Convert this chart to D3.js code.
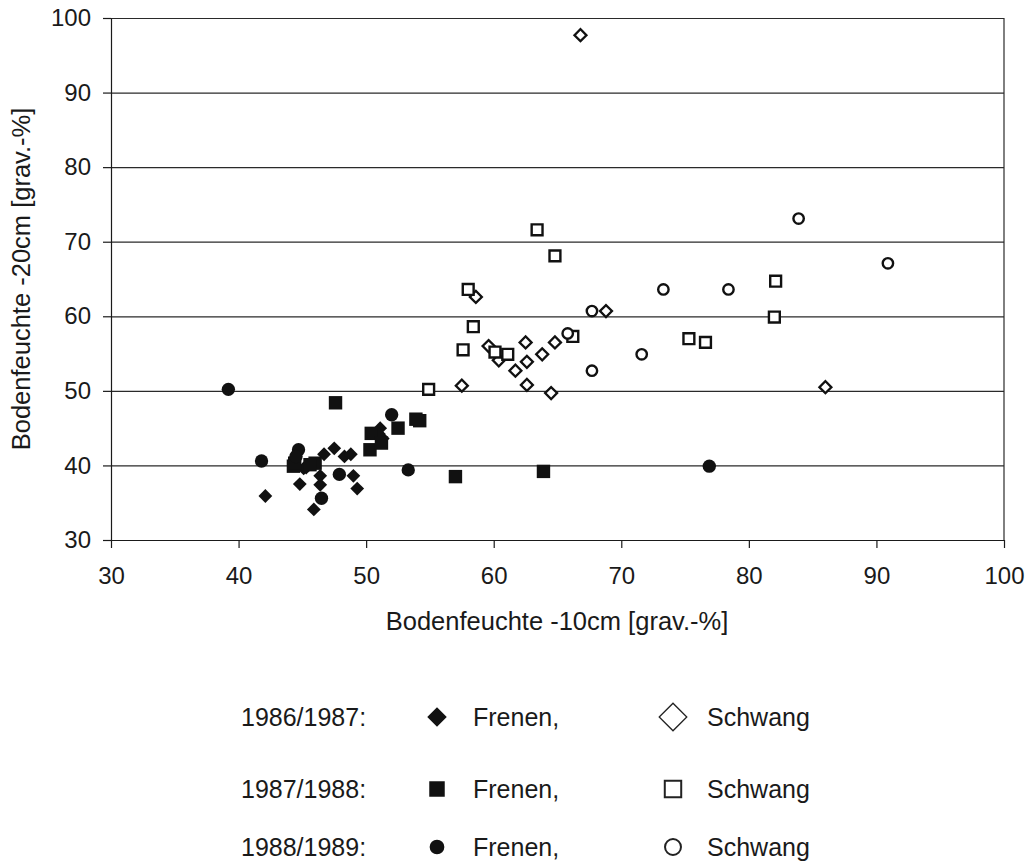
<!DOCTYPE html>
<html>
<head>
<meta charset="utf-8">
<script src="https://cdn.jsdelivr.net/npm/d3@7"></script>
<style>
  body { margin: 0; background: #fff; }
  svg { display: block; font-family: "Liberation Sans", Arial, sans-serif; }
</style>
</head>
<body>
<div id="chart"></div>
<script>
// 1986/1987
const frenen8687 = [
  [42.1, 35.9], [44.8, 37.5], [45.1, 39.6], [45.3, 39.7], [45.9, 34.1],
  [46.4, 38.6], [46.4, 37.4], [46.7, 41.5], [47.5, 42.3], [48.3, 41.2],
  [48.8, 41.5], [49.0, 38.6], [49.3, 36.9], [51.1, 45.0], [51.3, 43.6],
  [51.0, 44.2]
];
const schwang8687 = [
  [66.8, 97.7], [58.6, 62.6], [57.5, 50.7], [59.6, 56.0], [60.4, 54.1],
  [61.7, 52.7], [62.5, 56.5], [62.6, 53.9], [62.6, 50.8], [63.8, 54.9],
  [64.5, 49.7], [64.8, 56.5], [68.8, 60.7], [86.0, 50.5]
];
// 1987/1988
const frenen8788 = [
  [47.6, 48.4], [44.3, 39.9], [44.4, 40.3], [46.0, 40.3], [45.6, 40.1],
  [50.4, 44.3], [50.3, 42.1], [51.2, 43.0], [52.5, 45.0], [53.9, 46.2],
  [54.2, 46.0], [57.0, 38.5], [63.9, 39.2]
];
const schwang8788 = [
  [58.0, 63.6], [58.4, 58.6], [57.6, 55.5], [60.1, 55.2], [61.1, 54.9],
  [54.9, 50.2], [66.2, 57.3], [63.4, 71.6], [64.8, 68.1], [82.1, 64.7],
  [82.0, 59.9], [75.3, 57.0], [76.6, 56.5]
];
// 1988/1989
const frenen8889 = [
  [39.2, 50.2], [41.8, 40.6], [44.7, 42.1], [44.5, 41.2], [46.5, 35.6],
  [47.9, 38.8], [52.0, 46.8], [53.3, 39.4], [76.9, 39.9]
];
const schwang8889 = [
  [65.8, 57.7], [67.7, 60.7], [67.7, 52.7], [71.6, 54.9], [73.3, 63.6],
  [78.4, 63.6], [83.9, 73.1], [90.9, 67.1]
];

const xTicks = [30, 40, 50, 60, 70, 80, 90, 100];
const yTicks = [30, 40, 50, 60, 70, 80, 90, 100];
const years = ["1986/1987:", "1987/1988:", "1988/1989:"];

const width = 1031, height = 865;
const margin = { t: 18, r: 27, b: 325, l: 111 };
const fontSize = 24;

const svg = d3.select("#chart").append("svg")
  .attr("width", width)
  .attr("height", height);

const scaleX = d3.scaleLinear()
  .domain([30, 100])
  .range([margin.l, width - margin.r]);

const scaleY = d3.scaleLinear()
  .domain([30, 100])
  .range([height - margin.b, margin.t]);

// grid
const gridY = d3.axisLeft(scaleY)
  .tickValues(yTicks)
  .tickSizeInner(-(scaleX.range()[1] - scaleX.range()[0]))
  .tickSizeOuter(0)
  .tickFormat("");

svg.append("g")
  .attr("transform", `translate(${margin.l},0)`)
  .style("color", "#2a2a2a")
  .attr("stroke-width", 1.2)
  .call(gridY)
  .call((g) => g.select(".domain").remove());

// right frame
svg.append("line")
  .attr("x1", scaleX(100)).attr("x2", scaleX(100))
  .attr("y1", scaleY(100)).attr("y2", scaleY(30))
  .attr("stroke", "#2a2a2a")
  .attr("stroke-width", 1.2);

// axes
const axisX = d3.axisBottom(scaleX).tickValues(xTicks).tickSize(8).tickPadding(19).tickSizeOuter(0);
const axisY = d3.axisLeft(scaleY).tickValues(yTicks).tickSize(8).tickPadding(12).tickSizeOuter(0);

const styleTicks = (g) => g.selectAll("text")
  .attr("font-size", fontSize)
  .attr("fill", "#1a1a1a")
  .attr("font-family", "Liberation Sans, Arial, sans-serif");

svg.append("g")
  .attr("transform", `translate(0,${scaleY(30)})`)
  .style("color", "#1a1a1a")
  .attr("stroke-width", 1.2)
  .call(axisX)
  .call(styleTicks);

svg.append("g")
  .attr("transform", `translate(${margin.l},0)`)
  .style("color", "#1a1a1a")
  .attr("stroke-width", 1.2)
  .call(axisY)
  .call(styleTicks);

// axis titles
svg.append("text")
  .attr("x", 557)
  .attr("y", 630)
  .attr("text-anchor", "middle")
  .attr("font-size", 25.5)
  .attr("fill", "#1a1a1a")
  .text("Bodenfeuchte -10cm [grav.-%]");

svg.append("text")
  .attr("transform", `translate(30,${(scaleY(30) + scaleY(100)) / 2}) rotate(-90)`)
  .attr("text-anchor", "middle")
  .attr("font-size", 25.5)
  .attr("fill", "#1a1a1a")
  .text("Bodenfeuchte -20cm [grav.-%]");

// marker definitions
const series = [
  { data: frenen8687, type: d3.symbolSquare, size: 95, rot: 45, fill: "#111", stroke: "none", sw: 0 },
  { data: schwang8687, type: d3.symbolSquare, size: 72, rot: 45, fill: "#fff", stroke: "#111", sw: 2.3 },
  { data: frenen8788, type: d3.symbolSquare, size: 180, rot: 0, fill: "#111", stroke: "none", sw: 0 },
  { data: schwang8788, type: d3.symbolSquare, size: 118, rot: 0, fill: "#fff", stroke: "#111", sw: 2.4 },
  { data: frenen8889, type: d3.symbolCircle, size: 140, rot: 0, fill: "#111", stroke: "none", sw: 0 },
  { data: schwang8889, type: d3.symbolCircle, size: 85, rot: 0, fill: "#fff", stroke: "#111", sw: 2.4 }
];

series.forEach((s) => {
  svg.append("g")
    .selectAll("path")
    .data(s.data)
    .enter()
    .append("path")
    .attr("d", d3.symbol().type(s.type).size(s.size)())
    .attr("transform", (d) => `translate(${scaleX(d[0])},${scaleY(d[1])}) rotate(${s.rot})`)
    .attr("fill", s.fill)
    .attr("stroke", s.stroke)
    .attr("stroke-width", s.sw);
});

// legend
const legendRows = [717, 789, 847];
const legendMarks = [
  [
    { type: d3.symbolSquare, size: 190, rot: 45, fill: "#111", stroke: "none", sw: 0 },
    { type: d3.symbolSquare, size: 380, rot: 45, fill: "#fff", stroke: "#222", sw: 1.3 }
  ],
  [
    { type: d3.symbolSquare, size: 240, rot: 0, fill: "#111", stroke: "none", sw: 0 },
    { type: d3.symbolSquare, size: 270, rot: 0, fill: "#fff", stroke: "#222", sw: 2 }
  ],
  [
    { type: d3.symbolCircle, size: 170, rot: 0, fill: "#111", stroke: "none", sw: 0 },
    { type: d3.symbolCircle, size: 200, rot: 0, fill: "#fff", stroke: "#222", sw: 2 }
  ]
];

const legend = svg.append("g").attr("font-size", 25).attr("fill", "#1a1a1a");

years.forEach((yr, i) => {
  const y = legendRows[i];
  const [m1, m2] = legendMarks[i];
  legend.append("text").attr("x", 241).attr("y", y).attr("dy", "0.36em").text(yr);
  legend.append("path")
    .attr("d", d3.symbol().type(m1.type).size(m1.size)())
    .attr("transform", `translate(437,${y}) rotate(${m1.rot})`)
    .attr("fill", m1.fill)
    .attr("stroke", m1.stroke)
    .attr("stroke-width", m1.sw);
  legend.append("text").attr("x", 473).attr("y", y).attr("dy", "0.36em").text("Frenen,");
  legend.append("path")
    .attr("d", d3.symbol().type(m2.type).size(m2.size)())
    .attr("transform", `translate(673,${y}) rotate(${m2.rot})`)
    .attr("fill", m2.fill)
    .attr("stroke", m2.stroke)
    .attr("stroke-width", m2.sw);
  legend.append("text").attr("x", 707).attr("y", y).attr("dy", "0.36em").text("Schwang");
});
</script>
</body>
</html>
